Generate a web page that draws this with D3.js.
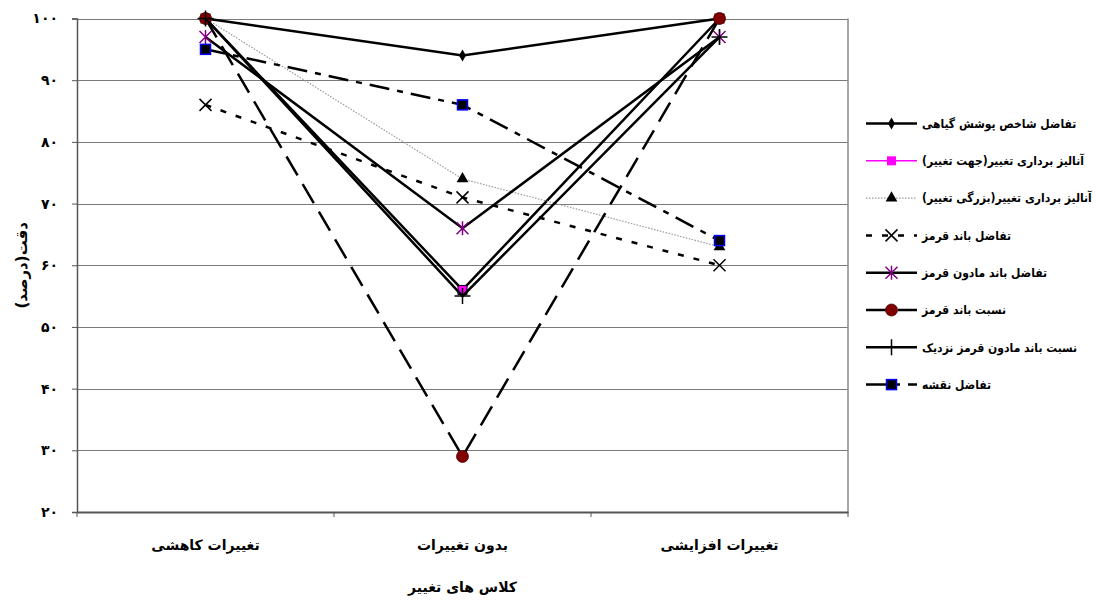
<!DOCTYPE html>
<html><head><meta charset="utf-8">
<script src="https://cdn.jsdelivr.net/npm/d3@7"></script>
<style>
html,body{margin:0;padding:0;background:#fff;}
text{font-family:"DejaVu Sans",sans-serif;font-weight:bold;}
.leg{font-family:"DejaVu Sans Condensed","DejaVu Sans",sans-serif;font-stretch:condensed;}
</style></head>
<body>
<svg id="c" width="1096" height="600"></svg>
<script>
const categories = ['تغییرات کاهشی','بدون تغییرات','تغییرات افزایشی'];
const seriesNames = [
  'تفاضل شاخص پوشش گیاهی',
  'آنالیز برداری تغییر(جهت تغییر)',
  'آنالیز برداری تغییر(بزرگی تغییر)',
  'تفاضل باند قرمز',
  'تفاضل باند مادون قرمز',
  'نسبت  باند قرمز',
  'نسبت  باند مادون قرمز نزدیک',
  'تفاضل نقشه'
];
const ndviDiff      = [100, 94, 100];
const cvaDirection  = [100, 56, 100];
const cvaMagnitude  = [100, 74, 63];
const redDiff       = [86, 71, 60];
const nirDiff       = [97, 66, 97];
const redRatio      = [100, 29, 100];
const nirRatio      = [100, 55, 97];
const mapDiff       = [95, 86, 64];
const yTicks = [20,30,40,50,60,70,80,90,100];
const yTitle = 'دقت(درصد)';
const xTitle = 'کلاس های تغییر';

const seriesValues = [ndviDiff, cvaDirection, cvaMagnitude, redDiff, nirDiff, redRatio, nirRatio, mapDiff];

const styles = [
  {stroke:'#000', w:2.5, dash:null, legendStroke:'#000', marker:'diamond'},
  {stroke:'#000', w:2.5, dash:null, legendStroke:'#ff00ff', legendW:1.5, marker:'pinkSquare'},
  {stroke:'#9a9a9a', w:1.2, dash:'1.5,1.5', legendStroke:'#9a9a9a', marker:'triangle'},
  {stroke:'#000', w:2.5, dash:'6,10', legendStroke:'#000', marker:'x'},
  {stroke:'#000', w:2.5, dash:null, legendStroke:'#000', marker:'asterisk'},
  {stroke:'#000', w:2.5, dash:'22,10', legendStroke:'#000', marker:'circle'},
  {stroke:'#000', w:2.5, dash:null, legendStroke:'#000', marker:'plus'},
  {stroke:'#000', w:2.5, dash:'20,8,6,8', legendStroke:'#000', marker:'blueSquare'}
];

const toFa = s => String(s).replace(/\d/g, d => '۰۱۲۳۴۵۶۷۸۹'[d]);

const svg = d3.select('#c');
const pLeft = 77, pRight = 848, pTop = 18.5, pBottom = 512;
const x = d3.scaleBand().domain(categories).range([pLeft, pRight]).padding(0);
const y = d3.scaleLinear().domain([20, 100]).range([pBottom, pTop]);
const cx = c => x(c) + x.bandwidth()/2;

// gridlines
svg.append('g').selectAll('line').data(yTicks).join('line')
  .attr('x1', pLeft).attr('x2', pRight)
  .attr('y1', d => Math.round(y(d))+0.5).attr('y2', d => Math.round(y(d))+0.5)
  .attr('stroke', '#7a7a7a').attr('stroke-width', 1.2);
// right border
svg.append('line').attr('x1', pRight).attr('x2', pRight).attr('y1', pTop).attr('y2', pBottom)
  .attr('stroke', '#8a8a8a').attr('stroke-width', 1.5);

// y axis
const yAxis = d3.axisLeft(y).tickValues(yTicks).tickFormat(toFa).tickSize(5).tickPadding(14);
const gy = svg.append('g').attr('transform', `translate(${pLeft},0)`).call(yAxis);
gy.select('.domain').attr('stroke', '#555').attr('stroke-width', 1.5);
gy.selectAll('.tick line').attr('stroke', '#555');
gy.selectAll('.tick text').attr('font-size', 14).attr('fill', '#000')
  .style('font-family', '"DejaVu Sans",sans-serif').style('font-weight', 'bold');

// x axis
const xAxis = d3.axisBottom(x).tickSize(0).tickPadding(28);
const gx = svg.append('g').attr('transform', `translate(0,${pBottom})`).call(xAxis);
gx.select('.domain').attr('stroke', '#555').attr('stroke-width', 2);
gx.selectAll('.tick text').attr('font-size', 14).attr('fill', '#000')
  .style('font-family', '"DejaVu Sans",sans-serif').style('font-weight', 'bold');
// category boundary ticks
const boundaries = categories.map(c => x(c)).concat([x(categories[categories.length-1]) + x.bandwidth()]);
svg.append('g').selectAll('line').data(boundaries).join('line')
  .attr('x1', d => d).attr('x2', d => d).attr('y1', pBottom).attr('y2', pBottom + 5)
  .attr('stroke', '#555').attr('stroke-width', 1);

// titles
svg.append('text').attr('transform', `translate(22,${(pTop+pBottom)/2}) rotate(-90)`)
  .attr('text-anchor', 'middle').attr('font-size', 15).attr('dominant-baseline','middle').text(yTitle);
svg.append('text').attr('x', (pLeft+pRight)/2).attr('y', 592)
  .attr('text-anchor', 'middle').attr('font-size', 14).text(xTitle);

// marker drawing
function drawMarker(g, type, px, py, inLegend) {
  switch (type) {
    case 'diamond':
      g.append('path').attr('d', d3.symbol(d3.symbolDiamond, 42)()).attr('transform', `translate(${px},${py})`).attr('fill', '#000');
      break;
    case 'pinkSquare':
      g.append('rect').attr('x', px-4.5).attr('y', py-4.5).attr('width', 9).attr('height', 9)
        .attr('fill', '#ff00ff').attr('stroke', inLegend ? 'none' : '#000').attr('stroke-width', 1);
      break;
    case 'triangle':
      g.append('path').attr('d', d3.symbol(d3.symbolTriangle, 60)()).attr('transform', `translate(${px},${py})`).attr('fill', '#000');
      break;
    case 'x':
      g.append('path').attr('d', `M${px-6},${py-6}L${px+6},${py+6}M${px-6},${py+6}L${px+6},${py-6}`).attr('stroke', '#000').attr('stroke-width', 1.5);
      break;
    case 'asterisk':
      g.append('path').attr('d', `M${px-6},${py-6}L${px+6},${py+6}M${px-6},${py+6}L${px+6},${py-6}M${px},${py-7}L${px},${py+7}`).attr('stroke', '#800080').attr('stroke-width', 1.5);
      break;
    case 'circle':
      g.append('circle').attr('cx', px).attr('cy', py).attr('r', 6).attr('fill', '#800000').attr('stroke', '#500000').attr('stroke-width', 0.8);
      break;
    case 'plus':
      g.append('path').attr('d', `M${px-8},${py}L${px+8},${py}M${px},${py-8}L${px},${py+8}`).attr('stroke', '#000').attr('stroke-width', 1.5);
      break;
    case 'blueSquare':
      g.append('rect').attr('x', px-5).attr('y', py-5).attr('width', 10).attr('height', 10)
        .attr('fill', '#000').attr('stroke', '#0000ff').attr('stroke-width', 1.5);
      break;
  }
}

const line = d3.line().x((d,i) => cx(categories[i])).y(d => y(d));
seriesValues.forEach((vals, si) => {
  const st = styles[si];
  const g = svg.append('g');
  g.append('path').attr('d', line(vals)).attr('fill', 'none')
    .attr('stroke', st.stroke).attr('stroke-width', st.w)
    .attr('stroke-dasharray', st.dash).attr('stroke-linejoin', 'miter');
  vals.forEach((v, i) => drawMarker(g, st.marker, cx(categories[i]), y(v), false));
});

// legend
const lg = svg.append('g');
const legX1 = 866, legX2 = 917, legY0 = 123.5, legStep = 37.3;
seriesNames.forEach((name, i) => {
  const st = styles[i];
  const ly = legY0 + i * legStep;
  const g = lg.append('g');
  g.append('line').attr('x1', legX1).attr('x2', legX2).attr('y1', ly).attr('y2', ly)
    .attr('stroke', st.legendStroke).attr('stroke-width', st.legendW || st.w)
    .attr('stroke-dasharray', st.dash);
  drawMarker(g, st.marker, (legX1 + legX2)/2, ly, true);
  g.append('text').attr('class', 'leg').attr('x', 922).attr('y', ly).attr('dy', '0.35em')
    .attr('direction', 'rtl').attr('text-anchor', 'end').attr('font-size', 12).text(name);
});
</script>
</body></html>
